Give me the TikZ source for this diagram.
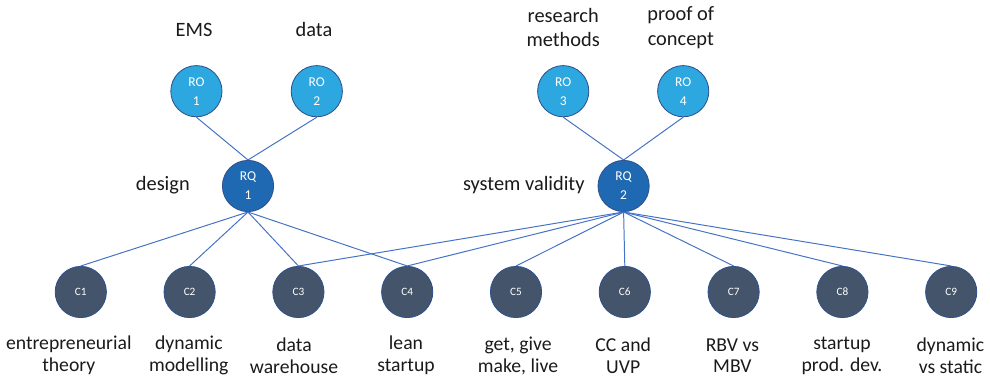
\documentclass[tikz,border=0pt]{standalone}
\usepackage{fontspec}
\setmainfont{Carlito}
\usepackage{tikz}
\usetikzlibrary{positioning}
\definecolor{roBlue}{HTML}{2DA7E0}
\definecolor{rqBlue}{HTML}{1F69B3}
\definecolor{cSlate}{HTML}{44546A}
\definecolor{rimBlue}{HTML}{2F528F}
\definecolor{linkBlue}{HTML}{4472C4}
\definecolor{inkGray}{HTML}{1A1A1A}

\begin{document}
\begin{tikzpicture}[
  every node/.style={font=\fontsize{14}{15.5}\selectfont,text=inkGray},
  ro/.style={circle,draw=rimBlue,line width=0.6pt,fill=roBlue,text=white,minimum size=1.28cm,inner sep=0pt,align=center,font=\fontsize{9.6}{13.5}\selectfont},
  rq/.style={ro,fill=rqBlue},
  con/.style={circle,draw=rimBlue,line width=0.6pt,fill=cSlate,text=white,minimum size=1.28cm,inner sep=0pt,font=\fontsize{8}{9}\selectfont},
  lbl/.style={align=center,inner sep=0pt},
  toplbl/.style={lbl,font=\fontsize{14.5}{17.5}\selectfont},
  link/.style={draw=linkBlue,line width=0.7pt},
]
  \useasboundingbox (0,0) rectangle (24.75,-9.45);

  \node[ro] (RO1) at (4.91,-2.28) {RO\\1};
  \node[ro] (RO2) at (7.92,-2.28) {RO\\2};
  \node[ro] (RO3) at (14.08,-2.28) {RO\\3};
  \node[ro] (RO4) at (17.08,-2.28) {RO\\4};

  \node[rq] (RQ1) at (6.20,-4.65) {RQ\\1};
  \node[rq] (RQ2) at (15.59,-4.65) {RQ\\2};

  \node[con] (C1) at (2.02,-7.3) {C1};
  \node[con] (C2) at (4.74,-7.3) {C2};
  \node[con] (C3) at (7.46,-7.3) {C3};
  \node[con] (C4) at (10.18,-7.3) {C4};
  \node[con] (C5) at (12.90,-7.3) {C5};
  \node[con] (C6) at (15.62,-7.3) {C6};
  \node[con] (C7) at (18.34,-7.3) {C7};
  \node[con] (C8) at (21.06,-7.3) {C8};
  \node[con] (C9) at (23.78,-7.3) {C9};

  \draw[link] (RO1.south) -- (RQ1.north);
  \draw[link] (RO2.south) -- (RQ1.north);
  \draw[link] (RO3.south) -- (RQ2.north);
  \draw[link] (RO4.south) -- (RQ2.north);

  \draw[link] (RQ1.south) -- (C1.north);
  \draw[link] (RQ1.south) -- (C2.north);
  \draw[link] (RQ1.south) -- (C3.north);
  \draw[link] (RQ1.south) -- (C4.north);
  \draw[link] (RQ2.south) -- (C3.north);
  \draw[link] (RQ2.south) -- (C4.north);
  \draw[link] (RQ2.south) -- (C5.north);
  \draw[link] (RQ2.south) -- (C6.north);
  \draw[link] (RQ2.south) -- (C7.north);
  \draw[link] (RQ2.south) -- (C8.north);
  \draw[link] (RQ2.south) -- (C9.north);

  % labels
  \node[toplbl] (lEMS) at (4.85,-0.75) {EMS};
  \node[toplbl] (lData) at (7.85,-0.75) {data};
  \node[toplbl] (lRes) at (14.08,-0.69) {research\\methods};
  \node[toplbl] (lPoc) at (17.02,-0.69) {proof of\\concept};
  \node[toplbl,anchor=east] (lDes) at (4.75,-4.62) {design};
  \node[toplbl,anchor=east] (lVal) at (14.62,-4.62) {system validity};

  \node[lbl] (l1) at (1.72,-8.89) {entrepreneurial\\theory};
  \node[lbl] (l2) at (4.72,-8.89) {dynamic\\modelling};
  \node[lbl] (l3) at (7.35,-8.89) {data\\warehouse};
  \node[lbl] (l4) at (10.15,-8.89) {lean\\startup};
  \node[lbl] (l5) at (12.95,-8.89) {get, give\\make, live};
  \node[lbl] (l6) at (15.58,-8.89) {CC and\\UVP};
  \node[lbl] (l7) at (18.31,-8.89) {RBV vs\\MBV};
  \node[lbl] (l8) at (21.05,-8.89) {startup\\prod. dev.};
  \node[lbl] (l9) at (23.76,-8.89) {dynamic\\vs static};
\end{tikzpicture}
\end{document}
